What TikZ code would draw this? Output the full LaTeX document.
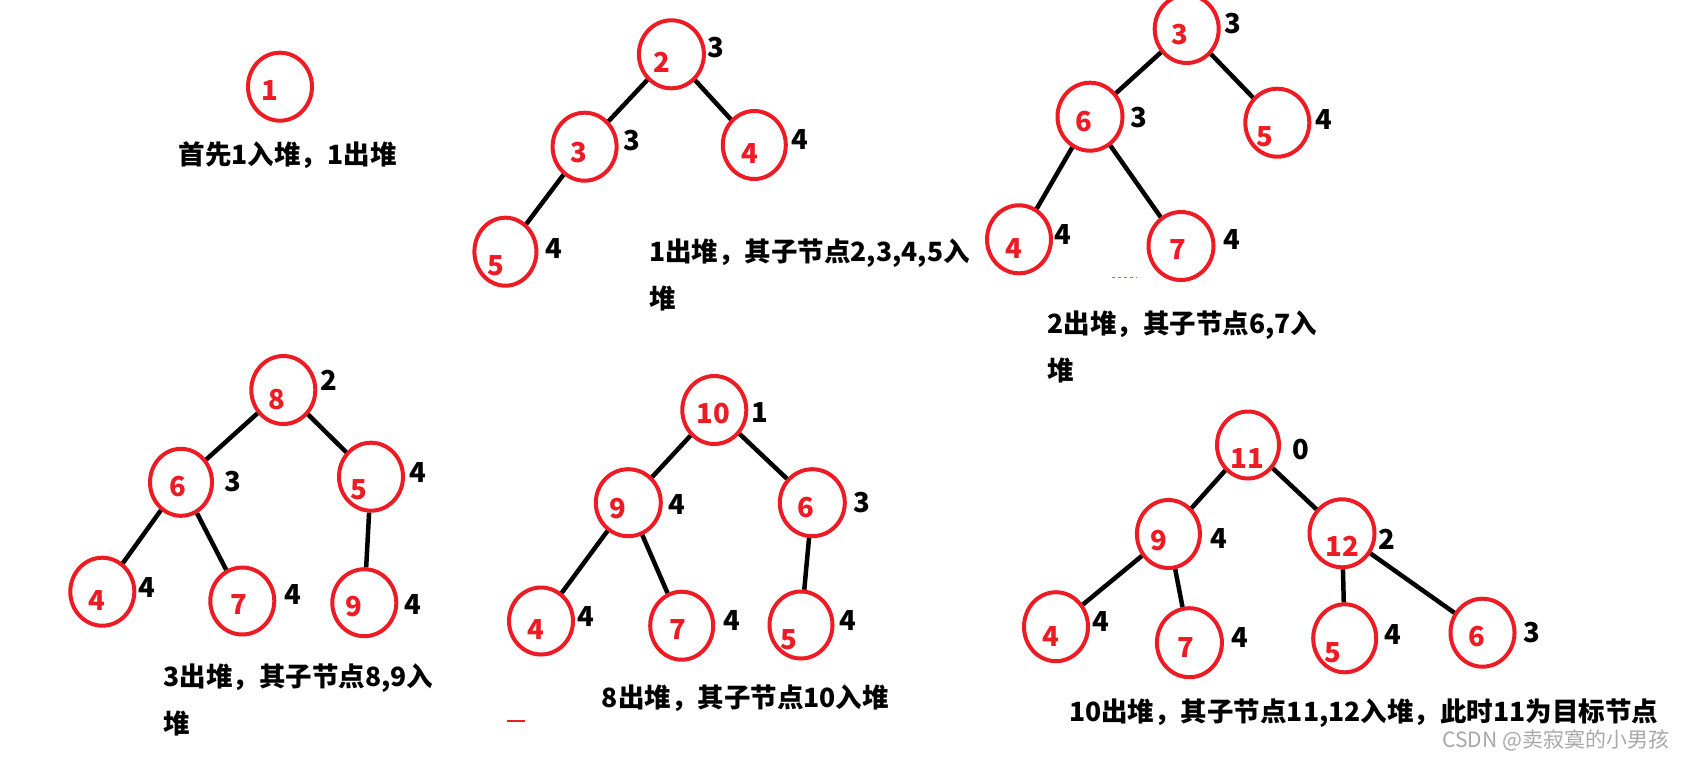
\documentclass[tikz,border=0pt]{standalone}
\usepackage{fontspec}
\setmainfont{Noto Sans CJK SC}
\usetikzlibrary{shapes.geometric}
\definecolor{pred}{HTML}{ED1C24}
\definecolor{wmgray}{HTML}{A8A8A8}
\definecolor{pblue}{HTML}{4A90D9}
\tikzset{
  circ/.style={ellipse, draw=pred, line width=4pt, inner sep=0pt, minimum width=64pt, minimum height=70pt},
  num/.style={inner sep=0pt, text=pred, font=\fontsize{27.5}{30}\selectfont\bfseries},
  wt/.style={inner sep=0pt, text=black, font=\fontsize{27.5}{30}\selectfont\bfseries},
  captxt/.style={inner sep=0pt, anchor=west, text=black, font=\fontsize{26.5}{30}\selectfont\bfseries},
  edge/.style={draw=black, line width=4.5pt},
}
\begin{document}
\begin{tikzpicture}[x=1pt,y=-1pt]
\useasboundingbox[fill=white] (0,0) rectangle (1686,758);

% ---- Tree A ----
\node[circ, minimum width=64pt, minimum height=68pt] (A1) at (280,86.7) {};
\node[num] (A1t) at (270,90.7) {1};
\node[captxt] (Acap) at (178.6,155) {首先1入堆，1出堆};

% ---- Tree B ----
\node[circ, minimum width=65pt, minimum height=68pt] (B2) at (671.4,54.3) {};
\node[num] (B2t) at (662,62.3) {2};
\node[wt] (B2w) at (716,47.7) {3};
\node[circ, minimum width=64pt, minimum height=68pt] (B3) at (584.6,146.7) {};
\node[num] (B3t) at (578.6,152.7) {3};
\node[wt] (B3w) at (631.8,140.7) {3};
\node[circ, minimum width=63pt, minimum height=68pt] (B4) at (754.3,145) {};
\node[num] (B4t) at (750,154) {4};
\node[wt] (B4w) at (800,140) {4};
\node[circ, minimum width=62pt, minimum height=68pt] (B5) at (505.4,251.7) {};
\node[num] (B5t) at (495.4,265.7) {5};
\node[wt] (B5w) at (554.3,248.3) {4};
\draw[edge] (B2) -- (B3);
\draw[edge] (B2) -- (B4);
\draw[edge] (B3) -- (B5);
\node[captxt] (Bcap1) at (649,253.3) {1出堆，其子节点2,3,4,5入};
\node[captxt] (Bcap2) at (649,298.3) {堆};

% ---- Tree C ----
\node[circ, minimum width=64pt, minimum height=68pt] (C3) at (1186.7,29) {};
\node[num] (C3t) at (1180,35) {3};
\node[wt] (C3w) at (1233.3,23.3) {3};
\node[circ, minimum width=65pt, minimum height=68pt] (C6) at (1090,116.7) {};
\node[num] (C6t) at (1084.3,121.7) {6};
\node[wt] (C6w) at (1139.3,117.3) {3};
\node[circ, minimum width=64pt, minimum height=68pt] (C5) at (1277.3,122.7) {};
\node[num] (C5t) at (1265,136.7) {5};
\node[wt] (C5w) at (1324.3,119.3) {4};
\node[circ, minimum width=64pt, minimum height=68pt] (C4) at (1019,239.3) {};
\node[num] (C4t) at (1014.3,248.3) {4};
\node[wt] (C4w) at (1063.3,235) {4};
\node[circ, minimum width=65pt, minimum height=68pt] (C7) at (1181,246) {};
\node[num] (C7t) at (1178.3,250) {7};
\node[wt] (C7w) at (1232.3,240) {4};
\draw[edge] (C3) -- (C6);
\draw[edge] (C3) -- (C5);
\draw[edge] (C6) -- (C4);
\draw[edge] (C6) -- (C7);
\coordinate (bl1) at (1111.7,277.7);
\coordinate (bl2) at (1136.7,277.7);
\draw[pblue, line width=1pt, dash pattern=on 3pt off 3pt] (bl1) -- (bl2);
\node[captxt] (Ccap1) at (1047.3,325) {2出堆，其子节点6,7入};
\node[captxt] (Ccap2) at (1047.3,370) {堆};

% ---- Tree D ----
\node[circ, minimum width=64pt, minimum height=68pt] (D8) at (283.3,390) {};
\node[num] (D8t) at (277.3,400) {8};
\node[wt] (D8w) at (329.3,380) {2};
\node[circ, minimum width=62pt, minimum height=67pt] (D6) at (181,482.3) {};
\node[num] (D6t) at (177.7,486.7) {6};
\node[wt] (D6w) at (232.7,481.7) {3};
\node[circ, minimum width=64pt, minimum height=68pt] (D5) at (371,476.7) {};
\node[num] (D5t) at (359.3,490) {5};
\node[wt] (D5w) at (418.3,472.7) {4};
\node[circ, minimum width=64pt, minimum height=68pt] (D4) at (102.3,591.7) {};
\node[num] (D4t) at (97.3,600.7) {4};
\node[wt] (D4w) at (146.7,587.3) {4};
\node[circ, minimum width=64pt, minimum height=67pt] (D7) at (242.3,601) {};
\node[num] (D7t) at (239.3,605) {7};
\node[wt] (D7w) at (293.3,595) {4};
\node[circ, minimum width=64pt, minimum height=67pt] (D9) at (364.3,602.7) {};
\node[num] (D9t) at (354,606.7) {9};
\node[wt] (D9w) at (413.3,605) {4};
\draw[edge] (D8) -- (D6);
\draw[edge] (D8) -- (D5);
\draw[edge] (D6) -- (D4);
\draw[edge] (D6) -- (D7);
\draw[edge] (D5) -- (D9);
\node[captxt] (Dcap1) at (163.3,678.3) {3出堆，其子节点8,9入};
\node[captxt] (Dcap2) at (163.3,723.3) {堆};

% ---- Tree E ----
\node[circ, minimum width=64pt, minimum height=68pt] (E10) at (714.3,410) {};
\node[num] (E10t) at (713.3,413.3) {10};
\node[wt] (E10w) at (760,412.7) {1};
\node[circ, minimum width=65pt, minimum height=67pt] (E9) at (628.3,502.7) {};
\node[num] (E9t) at (617.7,508.3) {9};
\node[wt] (E9w) at (677.3,505) {4};
\node[circ, minimum width=65pt, minimum height=67pt] (E6) at (812.3,502.7) {};
\node[num] (E6t) at (806,507.3) {6};
\node[wt] (E6w) at (861.7,502.7) {3};
\node[circ, minimum width=64pt, minimum height=67pt] (E4) at (541,621) {};
\node[num] (E4t) at (536,630) {4};
\node[wt] (E4w) at (585.7,616.7) {4};
\node[circ, minimum width=63pt, minimum height=68pt] (E7) at (681.7,625.7) {};
\node[num] (E7t) at (678.3,630) {7};
\node[wt] (E7w) at (732.3,620.7) {4};
\node[circ, minimum width=63pt, minimum height=67pt] (E5) at (801,625) {};
\node[num] (E5t) at (789.3,639.3) {5};
\node[wt] (E5w) at (848.3,621) {4};
\draw[edge] (E10) -- (E9);
\draw[edge] (E10) -- (E6);
\draw[edge] (E9) -- (E4);
\draw[edge] (E9) -- (E7);
\draw[edge] (E6) -- (E5);
\node[captxt] (Ecap) at (601.7,698.3) {8出堆，其子节点10入堆};
\coordinate (rd1) at (506.7,720.7);
\coordinate (rd2) at (525,720.7);
\draw[pred, line width=2pt] (rd1) -- (rd2);

% ---- Tree F ----
\node[circ, minimum width=62pt, minimum height=67pt] (F11) at (1248,445) {};
\node[num] (F11t) at (1247.2,458.3) {11};
\node[wt] (F11w) at (1300.5,450) {0};
\node[circ, minimum width=63pt, minimum height=68pt] (F9) at (1168.4,534) {};
\node[num] (F9t) at (1158.8,540.7) {9};
\node[wt] (F9w) at (1218.7,538.3) {4};
\node[circ, minimum width=65pt, minimum height=68pt] (F12) at (1342,533.3) {};
\node[num] (F12t) at (1342.5,546) {12};
\node[wt] (F12w) at (1387.1,539) {2};
\node[circ, minimum width=64pt, minimum height=69pt] (F4) at (1056,626.7) {};
\node[num] (F4t) at (1051.2,636.7) {4};
\node[wt] (F4w) at (1100.6,621.7) {4};
\node[circ, minimum width=65pt, minimum height=69pt] (F7) at (1189.4,642.7) {};
\node[num] (F7t) at (1185.9,647.3) {7};
\node[wt] (F7w) at (1239.7,637.3) {4};
\node[circ, minimum width=63pt, minimum height=68pt] (F5) at (1344.7,638.3) {};
\node[num] (F5t) at (1333.3,652.3) {5};
\node[wt] (F5w) at (1392.4,634.3) {4};
\node[circ, minimum width=64pt, minimum height=68pt] (F6) at (1482.5,632.7) {};
\node[num] (F6t) at (1476.8,636.7) {6};
\node[wt] (F6w) at (1531.5,632.7) {3};
\draw[edge] (F11) -- (F9);
\draw[edge] (F11) -- (F12);
\draw[edge] (F9) -- (F4);
\draw[edge] (F9) -- (F7);
\draw[edge] (F12) -- (F5);
\draw[edge] (F12) -- (F6);
\node[captxt] (Fcap) at (1069,713.3) {10出堆，其子节点11,12入堆，此时11为目标节点};
\node[inner sep=0pt, anchor=east, text=wmgray, font=\fontsize{21}{24}\selectfont] (wm) at (1669.3,740) {CSDN @卖寂寞的小男孩};
\end{tikzpicture}
\end{document}
